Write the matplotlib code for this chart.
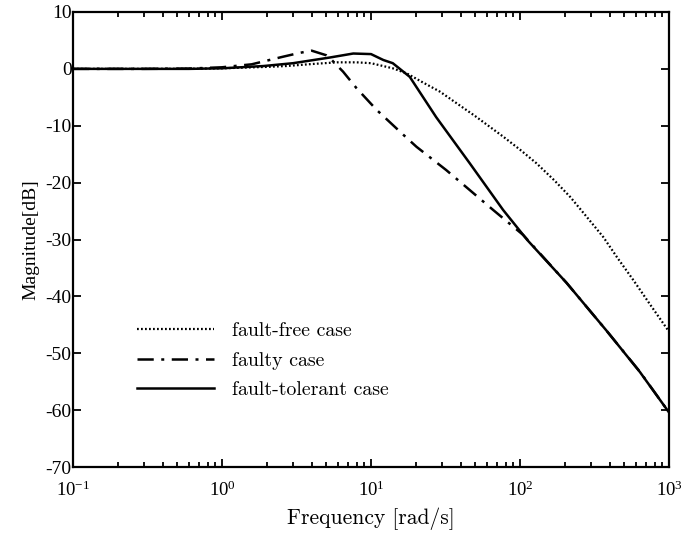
import matplotlib
matplotlib.use("Agg")
import matplotlib.pyplot as plt
from matplotlib.ticker import LogLocator, NullFormatter, LogFormatterMathtext, MultipleLocator

plt.rcParams['font.family'] = ['Liberation Serif', 'DejaVu Serif']
plt.rcParams['mathtext.fontset'] = 'stix'
plt.rcParams['axes.unicode_minus'] = False

# Fault-free case (dotted)
w_free = [0.1, 0.3, 0.6, 1.0, 2.0, 2.7, 4.0, 5.9, 8.0, 10, 14, 17.4, 22, 29, 35.5,
          50, 77, 100, 129, 170, 217, 280, 363, 450, 575, 750, 1000]
db_free = [0, 0, 0.02, 0.1, 0.35, 0.5, 0.85, 1.15, 1.15, 1.0, 0.1, -0.8, -2.3, -4.0, -5.6,
           -8.3, -11.9, -14.2, -16.6, -19.6, -22.5, -26.0, -29.6, -33.2, -37.1, -41.5, -46.2]

# Faulty case (dash-dot)
w_faulty = [0.1, 0.3, 0.6, 1.0, 1.58, 2.57, 3.3, 4.0, 5.0, 5.45, 6.5, 8.0, 10.9, 16.5,
            20.2, 32, 66, 105, 205, 380, 640, 1000]
db_faulty = [0, 0, 0.05, 0.28, 0.8, 2.14, 2.8, 3.2, 2.4, 1.56, -0.5, -3.4, -7.2, -11.6,
             -13.7, -17.8, -24.8, -29.2, -37.6, -46.0, -53.3, -60.4]

# Fault-tolerant case (solid)
w_tol = [0.1, 0.3, 0.6, 1.0, 1.9, 3.0, 5.3, 7.6, 10, 12.1, 14, 18.2, 27.4, 46, 77,
         112, 205, 380, 638, 1000]
db_tol = [0, 0, 0, 0.1, 0.5, 1.0, 2.0, 2.7, 2.6, 1.56, 1.0, -1.4, -8.5, -16.6, -24.8,
          -30.1, -37.6, -46.0, -53.3, -60.4]

labels = ['fault-free case', 'faulty case', 'fault-tolerant case']

fig = plt.figure(figsize=(6.81, 5.34), dpi=100)
ax = fig.add_axes([73/681, 1-467/534, (669-73)/681, (467-12)/534])

ax.semilogx(w_free, db_free, color='black', lw=1.6, linestyle=(0, (0.8, 1.0)), label=labels[0])
ax.semilogx(w_faulty, db_faulty, color='black', lw=1.8, linestyle=(0, (6.5, 3, 1.2, 3)), label=labels[1])
ax.semilogx(w_tol, db_tol, color='black', lw=1.8, linestyle='-', label=labels[2])

ax.set_xlim(0.1, 1000)
ax.set_ylim(-70, 10)
ax.yaxis.set_major_locator(MultipleLocator(10))
ax.xaxis.set_major_locator(LogLocator(base=10, numticks=10))
ax.xaxis.set_minor_locator(LogLocator(base=10, subs=range(2, 10), numticks=20))
ax.xaxis.set_minor_formatter(NullFormatter())
ax.xaxis.set_major_formatter(LogFormatterMathtext())

ax.tick_params(which='both', direction='in', top=True, right=True, width=1.3)
ax.tick_params(axis='y', labelsize=14, pad=1)
ax.tick_params(axis='x', labelsize=13.5, pad=10)
ax.tick_params(which='major', length=6)
ax.tick_params(which='minor', length=3.5)
for s in ax.spines.values():
    s.set_linewidth(1.6)

ax.set_xlabel('Frequency [rad/s]', fontsize=15.5, labelpad=5, family=['cmr10', 'DejaVu Serif'])
ax.set_ylabel('Magnitude[dB]', fontsize=14, labelpad=4)

leg = ax.legend(loc='upper left', bbox_to_anchor=(0.107, 0.318), frameon=False,
                prop={'family': ['cmr10', 'DejaVu Serif'], 'size': 14.3},
                handlelength=3.9, handletextpad=0.9, labelspacing=0.58, borderpad=0, borderaxespad=0)

fig.savefig('out.png', dpi=100)
